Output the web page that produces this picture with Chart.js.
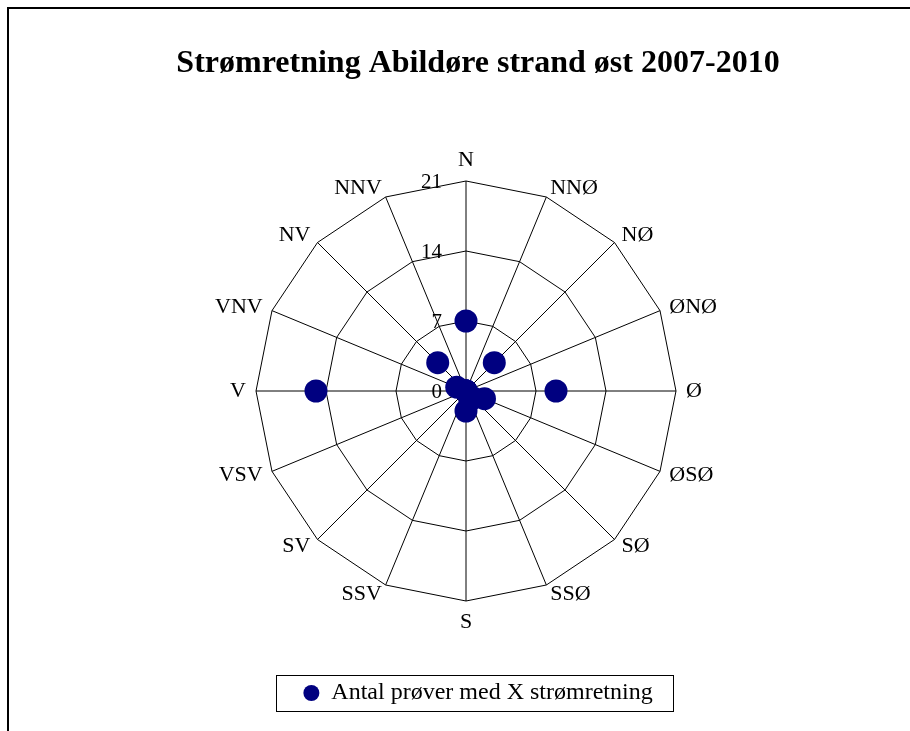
<!DOCTYPE html>
<html>
<head>
<meta charset="utf-8">
<script src="https://cdn.jsdelivr.net/npm/chart.js@4/dist/chart.umd.min.js"></script>
<style>
  body { margin: 0; background: #fff; }
  #wrap { position: relative; width: 910px; height: 731px; overflow: hidden; }
  #frame { position: absolute; left: 7px; top: 7px; width: 1000px; height: 1000px;
           border-left: 2px solid #000; border-top: 2px solid #000; }
  #chart { position: absolute; left: 0; top: 0; }
</style>
</head>
<body>
<div id="wrap">
  <div id="frame"></div>
  <canvas id="chart" width="910" height="731"></canvas>
</div>
<script>
const directions = ["N", "NNØ", "NØ", "ØNØ", "Ø", "ØSØ", "SØ", "SSØ", "S", "SSV", "SV", "VSV", "V", "VNV", "NV", "NNV"];
const counts = [7, 0, 4, 0, 9, 2, 1, 1, 2, 0, 0, 0, 15, 1, 4, 0];
const tickValues = [0, 7, 14, 21];
const seriesName = "Antal prøver med X strømretning";
const titleText = "Strømretning Abildøre strand øst 2007-2010";

const SERIF = "'Liberation Serif', 'Times New Roman', serif";
Chart.defaults.font.family = SERIF;
Chart.defaults.color = "#000";

const canvas = document.getElementById("chart");
const ctx = canvas.getContext("2d");

// draws point labels, tick labels and the legend frame
const extras = {
    id: "extras",
    afterDraw(chart) {
        const scale = chart.scales.r;
        const c = chart.ctx;
        c.save();
        c.fillStyle = "#000";
        c.font = "22px " + SERIF;

        // direction labels
        directions.forEach((d, i) => {
            const a = scale.getIndexAngle(i);
            const p = scale.getPointPosition(i, scale.drawingArea + 10);
            const s = Math.sin(a);
            const co = Math.cos(a);
            c.textAlign = Math.abs(s) < 0.01 ? "center" : (s > 0 ? "left" : "right");
            c.textBaseline = "middle";
            if (Math.abs(s) < 0.01) c.textBaseline = co > 0 ? "bottom" : "top";
            c.fillText(d, p.x, p.y);
        });

        // tick labels left of the north axis
        c.font = "21px " + SERIF;
        c.textAlign = "right";
        c.textBaseline = "middle";
        tickValues.forEach(v => {
            const r = scale.getDistanceFromCenterForValue(v);
            c.fillText(String(v), scale.xCenter - 24, scale.yCenter - r + 1);
        });

        // frame around legend
        const hb = chart.legend.legendHitBoxes[0];
        if (hb) {
            const cy = hb.top + 12;
            c.strokeStyle = "#000";
            c.lineWidth = 1;
            const x0 = Math.round(hb.left - 27);
            c.strokeRect(x0 + 0.5, Math.round(cy - 18) + 0.5,
                         Math.round(hb.left + hb.width + 20) - x0, 36);
        }
        c.restore();
    }
};

new Chart(ctx, {
    type: "radar",
    data: {
        labels: directions,
        datasets: [{
            label: seriesName,
            data: counts,
            showLine: false,
            fill: false,
            pointRadius: 11.5,
            pointHoverRadius: 11.5,
            pointBackgroundColor: "#000080",
            pointBorderColor: "#000080",
            pointBorderWidth: 0,
            backgroundColor: "#000080",
            borderColor: "#000080"
        }]
    },
    options: {
        responsive: false,
        animation: false,
        layout: { padding: { left: 46, right: 0, top: 0, bottom: 16 } },
        plugins: {
            title: {
                display: true,
                text: titleText,
                color: "#000",
                font: { size: 32, weight: "bold", lineHeight: 1.2 },
                padding: { top: 44.8, bottom: 97.8 }
            },
            legend: {
                position: "bottom",
                labels: {
                    usePointStyle: true,
                    pointStyle: "circle",
                    pointStyleWidth: 16,
                    boxHeight: 11.3,
                    padding: 80,
                    color: "#000",
                    font: { size: 24 }
                }
            },
            tooltip: { enabled: false }
        },
        scales: {
            r: {
                min: 0,
                max: 21,
                ticks: { stepSize: 7, display: false },
                pointLabels: { display: false },
                grid: { color: "#000", lineWidth: 1, circular: false },
                angleLines: { color: "#000", lineWidth: 1 },
                afterFit: s => { s.xCenter -= 12; }
            }
        }
    },
    plugins: [extras]
});
</script>
</body>
</html>
